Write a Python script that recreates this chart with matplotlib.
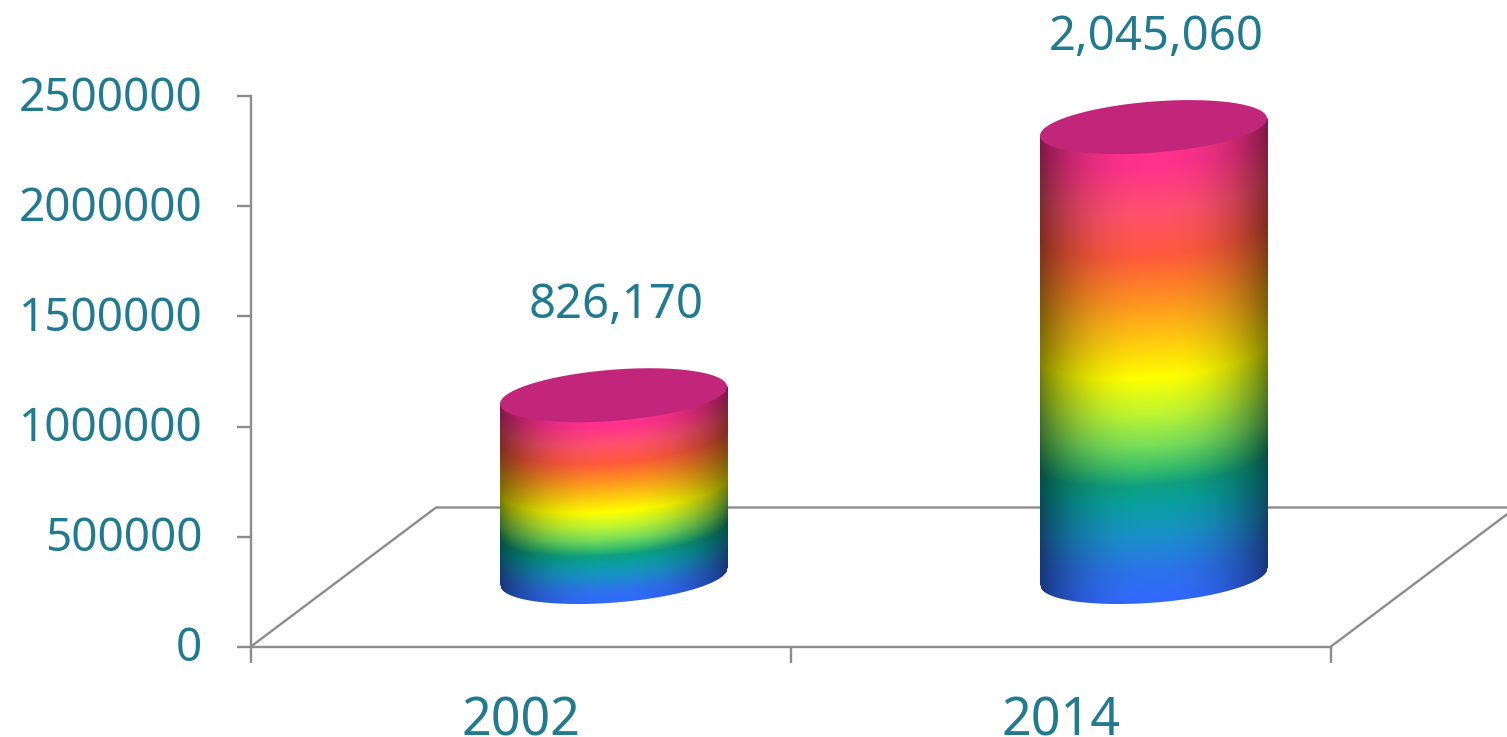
import numpy as np
import matplotlib
matplotlib.use('Agg')
import matplotlib.pyplot as plt
from matplotlib.patches import Polygon
from matplotlib.transforms import ScaledTranslation

years = ['2002', '2014']
population = [826170, 2045060]
value_labels = ['826,170', '2,045,060']
y_ticks = [0, 500000, 1000000, 1500000, 2000000, 2500000]
y_tick_labels = ['0', '500000', '1000000', '1500000', '2000000', '2500000']

text_color = '#217a8f'
line_color = '#8c8c8c'
cap_color = '#c2267a'
font_name = 'Noto Sans'

# colour bands up the cylinder, fraction of height -> rgb
stop_pos = [0, 0.07, 0.15, 0.22, 0.26, 0.3, 0.35, 0.42, 0.5, 0.6, 0.68, 0.77, 0.87, 0.97, 1]
stop_rgb = [(50, 105, 255), (45, 115, 235), (25, 145, 200), (10, 160, 160), (15, 160, 130), (60, 190, 105),
            (120, 222, 90), (190, 245, 50), (255, 255, 0), (255, 190, 20),
            (255, 140, 35), (255, 90, 60), (255, 80, 110), (255, 50, 140), (255, 50, 140)]

fig = plt.figure(figsize=(15.07, 7.37), dpi=100)
ax = fig.add_axes([251 / 1507, (737 - 646.5) / 737, 1080 / 1507, 550 / 737])
ax.set_xlim(-0.5, 1.5)
ax.set_ylim(0, 2500000)

# floor depth in data units (oblique 3d look)
depth_x = 185 / 540
depth_y = 139 / 550 * 2500000
x0, x1 = ax.get_xlim()
ax.plot([x0, x0 + depth_x, x1 + depth_x, x1], [0, depth_y, depth_y, 0],
        color=line_color, lw=1.7, clip_on=False, zorder=1)


def draw_cylinder(xc, value):
    base = ax.transData.transform((xc, depth_y / 2))
    top = ax.transData.transform((xc, depth_y / 2 + value))
    # ellipse: a along x, b along depth direction
    w = 107.6
    bx = 36
    by = 27
    half = np.hypot(w, bx)
    theta = np.arctan2(bx, w)
    t = np.linspace(0, 2 * np.pi, 400)
    ex = w * np.cos(t) + bx * np.sin(t)
    ey = by * np.sin(t)

    # lower silhouette of the ellipse, left extreme to right extreme
    tl = np.linspace(np.pi + theta, 2 * np.pi + theta, 400)
    xs = np.arange(np.floor(-half), np.ceil(half)) + 0.5
    front = np.interp(xs, w * np.cos(tl) + bx * np.sin(tl), by * np.sin(tl))
    slope = (by * np.sin(theta)) / half

    ymin = int(base[1] - by - 2)
    ymax = int(top[1] + by + 2)
    ys = np.arange(ymin, ymax) + 0.5
    X, Y = np.meshgrid(xs, ys)
    F = np.tile(front, (len(ys), 1))

    height = top[1] - base[1]
    frac = np.clip((Y - base[1] - F) / height, 0, 1)
    rgb = np.dstack([np.interp(frac, stop_pos, [c[i] / 255 for c in stop_rgb]) for i in range(3)])

    # darker towards both sides
    shade = 1 - 0.5 * np.abs(X / half) ** 2.5
    rgb = rgb * shade[..., None]

    alpha = np.clip(Y - (base[1] + F) + 0.5, 0, 1)
    # stop at the chord of the cap, the cap covers the rest
    alpha = alpha * np.clip(top[1] + slope * X - Y + 0.5, 0, 1)
    img = np.dstack([rgb, alpha])

    inv = ax.transData.inverted()
    (dx0, dy0) = inv.transform((base[0] + xs[0] - 0.5, ymin))
    (dx1, dy1) = inv.transform((base[0] + xs[-1] + 0.5, ymax))
    ax.imshow(img, extent=[dx0, dx1, dy0, dy1], origin='lower', aspect='auto',
              interpolation='nearest', clip_on=False, zorder=2)

    cap_pts = inv.transform(np.column_stack([top[0] + ex, top[1] + ey]))
    ax.add_patch(Polygon(cap_pts, closed=True, fc=cap_color, ec='none', clip_on=False, zorder=4))


for i in range(len(years)):
    draw_cylinder(i + depth_x / 2, population[i])
    ax.annotate(value_labels[i], xy=(i + depth_x / 2, population[i] + depth_y / 2),
                xytext=(2, 64.5), textcoords='offset points', ha='center', va='center',
                fontsize=34, color=text_color, family=font_name, fontweight='medium',
                annotation_clip=False, zorder=5)

ax.set_xlim(-0.5, 1.5)
ax.set_ylim(0, 2500000)

ax.spines['top'].set_visible(False)
ax.spines['right'].set_visible(False)
ax.spines['left'].set_color(line_color)
ax.spines['bottom'].set_color(line_color)
ax.spines['left'].set_linewidth(1.7)
ax.spines['bottom'].set_linewidth(1.7)

ax.set_yticks(y_ticks, labels=y_tick_labels)
ax.set_xticks([-0.5, 0.5, 1.5])
ax.set_xticklabels([])
ax.set_xticks([0, 1], labels=years, minor=True)
ax.tick_params(axis='x', which='major', length=11.5, width=1.7, color=line_color)
ax.tick_params(axis='x', which='minor', length=0, pad=35, labelsize=37.5, labelcolor=text_color)
ax.tick_params(axis='y', length=10, width=1.7, color=line_color, pad=25, labelsize=33, labelcolor=text_color)
for lab in ax.get_xticklabels(minor=True) + ax.get_yticklabels():
    lab.set_family(font_name)
    lab.set_fontweight('medium')
up = ScaledTranslation(0, 2.5 / 72, fig.dpi_scale_trans)
for lab in ax.get_yticklabels():
    lab.set_transform(lab.get_transform() + up)

fig.savefig('out.png', dpi=100)
